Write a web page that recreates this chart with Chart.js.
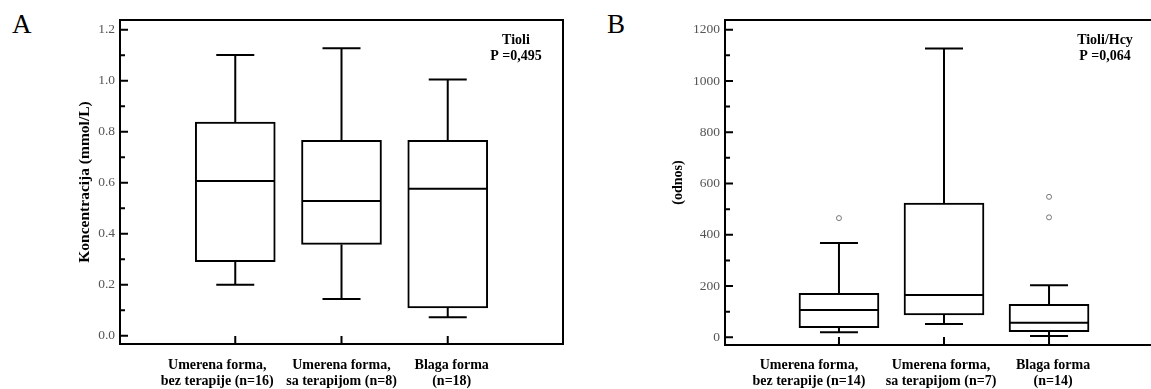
<!DOCTYPE html>
<html>
<head>
<meta charset="utf-8">
<script src="https://cdn.jsdelivr.net/npm/chart.js@4.4.1/dist/chart.umd.min.js"></script>
<style>
  html, body { margin: 0; padding: 0; background: #fff; }
  body { width: 1151px; height: 389px; position: relative; overflow: hidden; }
  canvas { position: absolute; top: 0; }
  #chart-a { left: 0; }
  #chart-b { left: 575px; }
  .panel { position: absolute; top: 11px; font: 27px "Liberation Serif", serif; line-height: 27px; color: #000; }
</style>
</head>
<body>
<div class="panel" style="left:12px">A</div>
<div class="panel" style="left:607px">B</div>
<canvas id="chart-a" width="575" height="389"></canvas>
<canvas id="chart-b" width="600" height="389"></canvas>
<script>
// panel A: Tioli (mmol/L)
const labelsA = [
  ["Umerena forma,", "bez terapije (n=16)"],
  ["Umerena forma,", "sa terapijom (n=8)"],
  ["Blaga forma", "(n=18)"],
];
const tioliMin = [0.20, 0.144, 0.072];
const tioliQ1 = [0.29, 0.358, 0.109];
const tioliMedian = [0.607, 0.528, 0.576];
const tioliQ3 = [0.838, 0.766, 0.766];
const tioliMax = [1.101, 1.127, 1.005];
const tioliOutliers = [[], [], []];
const yTicksA = [0, 0.2, 0.4, 0.6, 0.8, 1.0, 1.2];

// panel B: Tioli/Hcy ratio
const labelsB = [
  ["Umerena forma,", "bez terapije (n=14)"],
  ["Umerena forma,", "sa terapijom (n=7)"],
  ["Blaga forma", "(n=14)"],
];
const ratioMin = [19.5, 52, 5];
const ratioQ1 = [37.5, 87, 22];
const ratioMedian = [106.5, 165, 57];
const ratioQ3 = [171.7, 524, 128.8];
const ratioMax = [368, 1127, 203];
const ratioOutliers = [[465], [], [548, 468]];
const yTicksB = [0, 200, 400, 600, 800, 1000, 1200];

const SERIF = '"Liberation Serif", "Times New Roman", serif';

// whiskers, caps, medians, inward ticks, frame and the category labels
const boxExtras = {
  id: "boxExtras",
  afterDatasetsDraw(chart, args, opts) {
    const { ctx, chartArea: a } = chart;
    const x = chart.scales.x;
    const y = chart.scales.y;
    ctx.save();
    ctx.strokeStyle = "#000";
    ctx.lineWidth = 2;
    ctx.lineCap = "butt";
    opts.median.forEach((m, i) => {
      const cx = x.getPixelForValue(i + 1);
      const half = 39;
      const cap = 19;
      const yQ1 = y.getPixelForValue(opts.q1[i]);
      const yQ3 = y.getPixelForValue(opts.q3[i]);
      const yMin = y.getPixelForValue(opts.min[i]);
      const yMax = y.getPixelForValue(opts.max[i]);
      const yMed = y.getPixelForValue(m);
      ctx.beginPath();
      ctx.moveTo(cx, yQ3); ctx.lineTo(cx, yMax);
      ctx.moveTo(cx - cap, yMax); ctx.lineTo(cx + cap, yMax);
      ctx.moveTo(cx, yQ1); ctx.lineTo(cx, yMin);
      ctx.moveTo(cx - cap, yMin); ctx.lineTo(cx + cap, yMin);
      ctx.moveTo(cx - half, yMed); ctx.lineTo(cx + half, yMed);
      ctx.stroke();
    });
    // inward ticks
    ctx.beginPath();
    opts.ticks.forEach((t, i) => {
      const py = y.getPixelForValue(t);
      ctx.moveTo(a.left, py); ctx.lineTo(a.left + 8, py);
      if (i < opts.ticks.length - 1) {
        const pm = y.getPixelForValue((t + opts.ticks[i + 1]) / 2);
        ctx.moveTo(a.left, pm); ctx.lineTo(a.left + 5, pm);
      }
    });
    [1, 2, 3].forEach((v) => {
      const px = x.getPixelForValue(v);
      ctx.moveTo(px, a.bottom); ctx.lineTo(px, a.bottom - 8);
    });
    ctx.stroke();
    ctx.strokeRect(a.left, a.top, a.right - a.left, a.bottom - a.top);

    ctx.fillStyle = "#000";
    ctx.font = "bold 14px " + SERIF;
    ctx.textAlign = "center";
    ctx.textBaseline = "middle";
    // category labels (the original sets the first one a bit to the left)
    opts.labels.forEach((lines, i) => {
      const px = x.getPixelForValue(i + 1) + opts.labelShift[i];
      lines.forEach((s, k) => ctx.fillText(s, px, 365 + k * 16.5));
    });
    // annotation
    ctx.fillText(opts.note[0], opts.noteX, 40);
    ctx.fillText(opts.note[1], opts.noteX, 56);
    ctx.restore();
  },
};

function makeBoxChart(id, p) {
  const boxes = p.q1.map((q, i) => ({ x: i + 1, y: [q, p.q3[i]] }));
  const outs = [];
  p.outliers.forEach((list, i) => list.forEach((v) => outs.push({ x: i + 1, y: v })));
  return new Chart(document.getElementById(id), {
    type: "bar",
    data: {
      datasets: [
        {
          type: "bar",
          data: boxes,
          backgroundColor: "#fff",
          borderColor: "#000",
          borderWidth: 2,
          borderSkipped: false,
          barThickness: 80,
        },
        {
          type: "scatter",
          data: outs,
          pointRadius: 2.5,
          pointBackgroundColor: "#fff",
          pointBorderColor: "#777",
          pointBorderWidth: 1,
        },
      ],
    },
    options: {
      responsive: false,
      animation: false,
      layout: { padding: { top: 20, right: p.padRight, left: 0, bottom: 0 } },
      plugins: {
        legend: { display: false },
        tooltip: { enabled: false },
        boxExtras: {
          min: p.min, q1: p.q1, median: p.median, q3: p.q3, max: p.max,
          ticks: p.ticks, note: p.note, noteX: p.noteX,
          labels: p.labels, labelShift: p.labelShift,
        },
      },
      scales: {
        x: {
          type: "linear",
          offset: false,
          min: -0.085,
          max: 4.085,
          grid: { display: false, drawTicks: false, offset: false },
          border: { display: false },
          afterBuildTicks: (s) => { s.ticks = [1, 2, 3].map((v) => ({ value: v })); },
          afterFit: (s) => { s.height = p.xHeight; },
          ticks: { display: false },
        },
        y: {
          min: p.yMin,
          max: p.yMax,
          grid: { display: false, drawTicks: false },
          border: { display: false },
          afterBuildTicks: (s) => { s.ticks = p.ticks.map((v) => ({ value: v })); },
          afterFit: (s) => { s.width = p.yWidth; },
          ticks: {
            padding: 5,
            color: "#555",
            font: { family: SERIF, size: 13.5 },
            callback: p.fmt,
          },
          title: {
            display: true,
            text: p.title,
            color: "#000",
            font: { family: SERIF, size: p.titleSize, weight: "bold", lineHeight: 1.2 },
            padding: { top: p.titlePad, bottom: 0 },
          },
        },
      },
    },
    plugins: [boxExtras],
  });
}

makeBoxChart("chart-a", {
  labels: labelsA,
  labelShift: [-18, 0, 4],
  min: tioliMin, q1: tioliQ1, median: tioliMedian, q3: tioliQ3, max: tioliMax,
  outliers: tioliOutliers,
  ticks: yTicksA,
  yMin: -0.0325, yMax: 1.238,
  fmt: (v) => v.toFixed(1),
  title: "Koncentracija (mmol/L)",
  titleSize: 15.5,
  titlePad: 76,
  yWidth: 120,
  xHeight: 45,
  padRight: 12,
  note: ["Tioli", "P =0,495"],
  noteX: 516,
});

makeBoxChart("chart-b", {
  labels: labelsB,
  labelShift: [-30, -3, 4],
  min: ratioMin, q1: ratioQ1, median: ratioMedian, q3: ratioQ3, max: ratioMax,
  outliers: ratioOutliers,
  ticks: yTicksB,
  yMin: -30, yMax: 1237.8,
  fmt: (v) => String(v),
  title: "(odnos)",
  titleSize: 14,
  titlePad: 95,
  yWidth: 150,
  xHeight: 44,
  padRight: 12,
  note: ["Tioli/Hcy", "P =0,064"],
  noteX: 530,
});
</script>
</body>
</html>
